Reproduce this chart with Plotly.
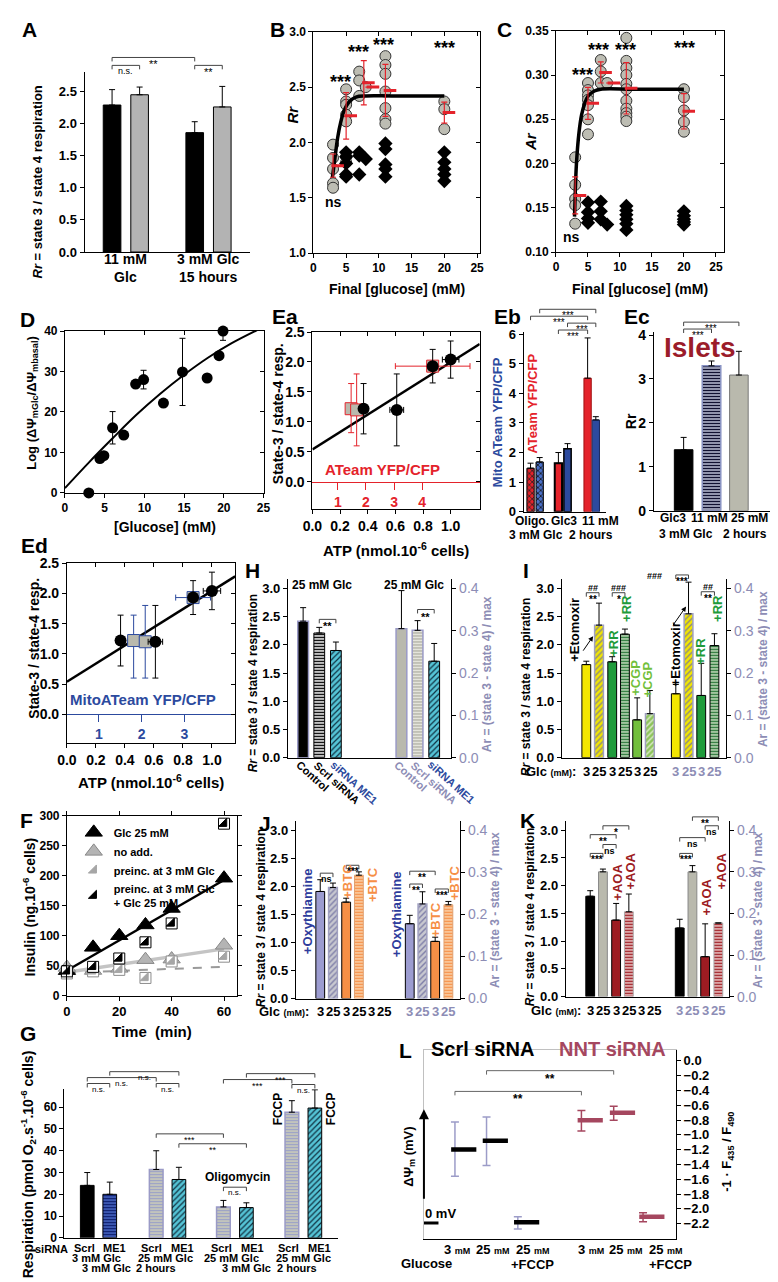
import plotly.graph_objects as go

W, H = 778, 1282
FONT = "Liberation Sans, Arial, Helvetica, sans-serif"

# ============================ DATA ============================
# A
A_black = [2.29, 1.86]
A_black_err = [0.24, 0.17]
A_gray = [2.45, 2.26]
A_gray_err = [0.12, 0.32]
A_labels = ["11 mM<br>Glc", "3 mM Glc<br>15 hours"]

# B
B_gray_x = [3, 3, 3, 3, 3, 5, 5, 5, 5, 5, 5, 5, 7, 7, 7, 8, 11, 11, 11, 11, 11, 11, 11, 20, 20, 20]
B_gray_y = [1.98, 1.86, 1.76, 1.63, 1.59, 2.48, 2.37, 2.34, 2.25, 2.19, 1.87, 1.82, 2.64, 2.56, 2.42,
            2.50, 2.78, 2.70, 2.62, 2.46, 2.31, 2.21, 2.17, 2.37, 2.30, 2.12]
B_dia_x = [5, 5, 5, 5, 5, 7, 7, 7, 8, 11, 11, 11, 11, 11, 20, 20, 20, 20, 20]
B_dia_y = [1.91, 1.87, 1.81, 1.71, 1.69, 1.91, 1.88, 1.71, 1.85, 1.99, 1.94, 1.80, 1.76, 1.69,
           1.91, 1.82, 1.76, 1.71, 1.65]
B_mean_x = [3, 5, 7.7, 8.4, 11, 20]
B_mean_y = [1.79, 2.24, 2.54, 2.50, 2.47, 2.27]
B_mean_err = [0.105, 0.21, 0.20, 0, 0.235, 0.095]
B_fit_x = [2.9, 3.3, 3.7, 4.2, 4.7, 5.5, 6.5, 8, 12, 20]
B_fit_y = [1.68, 1.86, 2.04, 2.19, 2.29, 2.37, 2.41, 2.42, 2.42, 2.42]

# C
C_gray_x = [3, 3, 3, 3, 3, 5, 5, 5, 5, 5, 5, 5, 7, 7, 7, 8, 11, 11, 11, 11, 11, 11, 11, 11, 11, 11, 11,
            20, 20, 20, 20, 20]
C_gray_y = [0.207, 0.176, 0.160, 0.153, 0.132, 0.291, 0.283, 0.277, 0.272, 0.266, 0.250, 0.233,
            0.317, 0.304, 0.291, 0.291, 0.342, 0.316, 0.308, 0.300, 0.290, 0.284, 0.271, 0.262,
            0.257, 0.253, 0.248, 0.284, 0.275, 0.260, 0.247, 0.236]
C_dia_x = [5, 5, 5, 5, 7, 7, 7, 8, 11, 11, 11, 11, 11, 11, 20, 20, 20, 20, 20]
C_dia_y = [0.156, 0.145, 0.138, 0.133, 0.157, 0.146, 0.137, 0.131, 0.152, 0.147, 0.142, 0.137,
           0.132, 0.125, 0.146, 0.141, 0.137, 0.134, 0.131]
C_mean_x = [3, 5, 7, 8.3, 11, 20]
C_mean_y = [0.164, 0.268, 0.303, 0.291, 0.285, 0.259]
C_mean_err = [0.021, 0.018, 0.012, 0, 0.029, 0.020]
C_fit_x = [2.9, 3.0, 3.2, 3.6, 4.0, 4.5, 5, 6, 7, 12, 20]
C_fit_y = [0.14, 0.165, 0.20, 0.235, 0.255, 0.268, 0.276, 0.282, 0.284, 0.284, 0.284]

# D
D_glc = [3, 4.4, 4.9, 6, 7.4, 8.9, 9.9, 12.4, 14.8, 17.9, 19.4, 19.9]
D_val = [0, 8.5, 9.2, 16.1, 14.3, 26.9, 28.0, 22.2, 29.9, 28.4, 33.9, 40.0]
D_err = [0, 0, 0, 4.0, 0, 0, 2.3, 0, 8.3, 0, 0, 2.3]
D_fit_x = [0, 3, 6, 9, 12, 15, 18, 21, 25]
D_fit_y = [1.2, 7.5, 13.5, 19.3, 24.5, 29.2, 33.4, 37.0, 41.0]

# Ea / Ed
ATP = [0.37, 0.61, 0.87, 1.0]
ATP_err = [0, 0.05, 0, 0.06]
RR34 = [1.22, 1.20, 1.93, 2.04]
RR34_err = [0.42, 0.60, 0.28, 0.31]
ATEAM_atp = [0.28, 0.32, 0.87]
ATEAM_atp_err = [0, 0, 0.27]
ATEAM_rr = [1.22, 1.20, 1.93]
ATEAM_rr_up = [0.42, 0.60, 0]
ATEAM_rr_dn = [0.40, 0.60, 0]
MITO_atp = [0.46, 0.54, 0.87]
MITO_atp_err = [0, 0, 0.12]
MITO_rr = [1.22, 1.20, 1.93]
MITO_rr_up = [0.42, 0.60, 0]
MITO_rr_dn = [0.62, 0.60, 0]
Ea_line_x = [0, 1.21]
Ea_line_y = [0.54, 2.30]
Ed_line_x = [0, 1.16]
Ed_line_y = [0.54, 2.28]

# Eb / Ec
Eb_val = [1.47, 1.68, 1.64, 2.13, 4.51, 3.10]
Eb_err = [0.17, 0.15, 0.36, 0.17, 1.36, 0.11]
Ec_val = [1.39, 3.30, 3.09]
Ec_err = [0.28, 0.11, 0.54]

# H
H_rr = [2.42, 2.21, 1.90]
H_rr_err = [0.24, 0.10, 0.15]
H_ar = [0.305, 0.301, 0.228]
H_ar_err = [0.09, 0.023, 0.042]
H_names = ["Control", "Scrl siRNA", "siRNA ME1"]

# I
I_rr = [1.65, 2.35, 1.70, 2.19, 0.67, 0.78]
I_rr_err = [0.06, 0.39, 0.09, 0.09, 0.39, 0.41]
I_ar = [0.151, 0.340, 0.147, 0.265]
I_ar_err = [0.022, 0.075, 0.076, 0.028]

# J
J_rr = [1.91, 1.98, 1.72, 2.20]
J_rr_err = [0.21, 0.08, 0.07, 0.06]
J_ar = [0.178, 0.225, 0.136, 0.223]
J_ar_err = [0.020, 0.029, 0.010, 0.008]

# K
K_rr = [1.81, 2.25, 1.38, 1.53]
K_rr_err = [0.10, 0.05, 0.30, 0.32]
K_ar = [0.165, 0.300, 0.096, 0.177]
K_ar_err = [0.021, 0.015, 0.079, 0.0]

GLC1 = ["3", "25", "3", "25", "3", "25"]
GLC2 = ["3", "25", "3", "25"]

# F
F_time = [0, 10, 20, 30, 40, 60]
F_glc25 = [41.7, 80.6, 100, 118, 145.5, 196]
F_noadd = [47, 42, 45.5, 60, 61, 84]
F_pre3 = [37, 40.5, 43, 29.5, 57, 65]
F_pre3_glc = [40.5, 48, 62, 89, 120.5, 287]
F_fit_t = [0, 60]
F_fit_glc25 = [42, 193]
F_fit_noadd = [39, 78]
F_fit_pre3 = [38, 48]

# G
G_val = [24.1, 20.0, 31.4, 26.8, 14.2, 13.9, 57.7, 59.6]
G_err = [5.9, 5.6, 8.6, 5.6, 3.0, 2.2, 5.3, 8.4]
G_sirna = ["Scrl", "ME1", "Scrl", "ME1", "Scrl", "ME1", "Scrl", "ME1"]

# L
L_scrl = [-1.196, -1.08, -2.18]
L_scrl_up = [0.369, 0.32, 0.073]
L_scrl_dn = [0.364, 0.333, 0.09]
L_nnt = [-0.804, -0.702, -2.107]
L_nnt_up = [0.134, 0.089, 0.057]
L_nnt_dn = [0.143, 0.102, 0.066]
L_zero = [-2.19]

# ============================ STYLE ============================
RED = "#e4232b"; BLUE = "#2c4a9e"; ARC = "#8d8db5"; GRAY = "#b9b9ad"
YEL = "#f3e600"; GREEN = "#1f9b3b"; LGREEN = "#72bf3c"; PURP = "#9c9cd0"
ORANGE = "#f68f46"; DRED = "#9d1c22"; CYAN = "#55c4d6"; MAROON = "#a5475f"
NAVY = "#233f95"; OXY = "#2e3c9c"

fig = go.Figure()
LAY = {}
ANN = []
CNT = {"x": 0, "y": 0}


def new_id(k):
    CNT[k] += 1
    return k if CNT[k] == 1 else k + str(CNT[k])


def key(aid):
    return ("xaxis" if aid[0] == "x" else "yaxis") + aid[1:]


def base(size=12, family=FONT, color="black", bold=True):
    return dict(showgrid=False, zeroline=False, fixedrange=True, showline=True,
                linecolor="black", linewidth=1, ticks="outside", ticklen=4,
                tickwidth=1, tickcolor="black",
                tickfont=dict(size=size, family=family, color=color,
                              weight="bold" if bold else "normal"))


def dummy(xa, ya):
    fig.add_trace(go.Scatter(x=[None], y=[None], xaxis=xa, yaxis=ya,
                             showlegend=False, hoverinfo="skip"))


def panel(x0, x1, y0, y1, xr, yr, xkw=None, ykw=None, fs=12, family=FONT):
    xa, ya = new_id("x"), new_id("y")
    X = base(fs, family)
    X.update(domain=[x0 / W, x1 / W], range=xr, anchor=ya)
    Y = base(fs, family)
    Y.update(domain=[1 - y1 / H, 1 - y0 / H], range=yr, anchor=xa)
    if xkw:
        X.update(xkw)
    if ykw:
        Y.update(ykw)
    LAY[key(xa)] = X
    LAY[key(ya)] = Y
    return xa, ya


def side_axis(xa, ya, yr, side="right", **kw):
    yb = new_id("y")
    Y = base()
    Y.update(overlaying=ya, side=side, anchor=xa, range=yr)
    Y.update(kw)
    LAY[key(yb)] = Y
    dummy(xa, yb)
    return yb


def top_axis(xa, ya, xr, **kw):
    xb = new_id("x")
    X = base()
    X.update(overlaying=xa, side="top", anchor=ya, range=xr)
    X.update(kw)
    LAY[key(xb)] = X
    dummy(xb, ya)
    return xb


def inner_ticks(xa, ya, xt, yt):
    top_axis(xa, ya, LAY[key(xa)]["range"], tickvals=xt, ticks="inside",
             showticklabels=False, showline=False)
    side_axis(xa, ya, LAY[key(ya)]["range"], tickvals=yt, ticks="inside",
              showticklabels=False, showline=False)


FULL = {}


def full(xa):
    if xa not in FULL:
        xb, yb = new_id("x"), new_id("y")
        LAY[key(xb)] = dict(domain=LAY[key(xa)]["domain"], range=LAY[key(xa)]["range"],
                            anchor=yb, visible=False, fixedrange=True)
        LAY[key(yb)] = dict(domain=[0, 1], range=[H, 0], anchor=xb, visible=False,
                            fixedrange=True)
        FULL[xa] = (xb, yb)
    return FULL[xa]


def bracket(xa, x0, x1, lv, below="", above="", leg=4, fs=10, color="#444",
            tcolor="black", bold=True):
    xb, yb = full(xa)
    fig.add_trace(go.Scatter(x=[x0, x0, x1, x1], y=[lv + leg, lv, lv, lv + leg],
                             mode="lines", line=dict(color=color, width=1),
                             xaxis=xb, yaxis=yb, showlegend=False, hoverinfo="skip"))
    mid = (x0 + x1) / 2
    wt = "bold" if bold else "normal"
    if below:
        ANN.append(dict(x=mid, y=lv, xref=xb, yref=yb, text=below, showarrow=False,
                        xanchor="center", yanchor="top", yshift=1,
                        font=dict(size=fs, color=tcolor, family=FONT, weight=wt)))
    if above:
        ANN.append(dict(x=mid, y=lv, xref=xb, yref=yb, text=above, showarrow=False,
                        xanchor="center", yanchor="bottom", yshift=-2,
                        font=dict(size=fs - 1, color=tcolor, family=FONT, weight=wt)))


def txt(text, px, py, size=12, color="black", bold=True, angle=0, xa="center",
        ya="middle"):
    ANN.append(dict(text=text, x=px / W, y=1 - py / H, xref="paper", yref="paper",
                    showarrow=False, textangle=angle, xanchor=xa, yanchor=ya,
                    font=dict(size=size, color=color, family=FONT,
                              weight="bold" if bold else "normal")))


def dtxt(text, xref, yref, x, y, size=12, color="black", bold=True):
    ANN.append(dict(text=text, x=x, y=y, xref=xref, yref=yref, showarrow=False,
                    xanchor="center", yanchor="middle",
                    font=dict(size=size, color=color, family=FONT,
                              weight="bold" if bold else "normal")))


def xtxt(text, xref, x, py, size=12, color="black", bold=True):
    ANN.append(dict(text=text, x=x, y=1 - py / H, xref=xref, yref="paper",
                    showarrow=False, xanchor="center", yanchor="middle",
                    font=dict(size=size, color=color, family=FONT,
                              weight="bold" if bold else "normal")))


def arrow(x0, y0, x1, y1, width=1, head=2):
    ANN.append(dict(x=x1 / W, y=1 - y1 / H, ax=x0 - x1, ay=y0 - y1, xref="paper",
                    yref="paper", axref="pixel", ayref="pixel", showarrow=True,
                    arrowhead=head, arrowwidth=width, arrowsize=1, arrowcolor="black",
                    text=""))


def bar(xa, ya, x, y, err, color, line="black", lw=1, width=0.9, pattern=None):
    m = dict(color=color, line=dict(color=line, width=lw))
    if pattern:
        m["pattern"] = pattern
    fig.add_trace(go.Bar(x=x, y=y, width=width, xaxis=xa, yaxis=ya, marker=m,
                         error_y=dict(type="data", array=err, arrayminus=[0] * len(err),
                                      symmetric=False, color="black", thickness=1, width=3),
                         showlegend=False, hoverinfo="skip"))


def pat(shape, fg, bg, size=4, sol=0.4):
    return dict(shape=shape, fgcolor=fg, bgcolor=bg, size=size, solidity=sol,
                fillmode="replace")


def tf(size=12, color="black", bold=True):
    return dict(size=size, family=FONT, color=color, weight="bold" if bold else "normal")


# ============================ PANEL A ============================
txt("A", 12, 14, 21)
xA, yA = panel(68, 237, 57, 239, [0, 6], [0, 2.8],
               xkw=dict(ticks="", showticklabels=False),
               ykw=dict(tickvals=[0, 0.5, 1, 1.5, 2, 2.5], tickformat=".1f", tickfont=tf(13)))
bar(xA, yA, [1, 4], A_black, A_black_err, "black", width=0.64)
bar(xA, yA, [2, 5], A_gray, A_gray_err, "#b3b3b3", width=0.64)
for p, lab in zip([1.5, 4.5], A_labels):
    xtxt(lab, xA, p, 255, 14)
txt("<i>Rr</i> = state 3 / state 4 respiration", 20, 168, 13, angle=-90)
bracket(xA, 1, 4, 42, "**", fs=11, bold=False)
bracket(xA, 1, 2, 50, "n.s.", fs=9, bold=False)
bracket(xA, 4, 5, 50, "**", fs=11, bold=False)

# ============================ PANEL B ============================
txt("B", 265, 14, 21)
xB, yB = panel(302, 472, 16, 240, [0, 25.4], [1, 3],
               xkw=dict(tickvals=[0, 5, 10, 15, 20, 25], mirror=True),
               ykw=dict(tickvals=[1, 1.5, 2, 2.5, 3], tickformat=".1f", mirror=True))
inner_ticks(xB, yB, [5, 10, 15, 20, 25], [1.5, 2, 2.5])
fig.add_trace(go.Scatter(x=B_gray_x, y=B_gray_y, mode="markers", xaxis=xB, yaxis=yB,
                         marker=dict(size=11, color="#bdbdb3", line=dict(color="#333", width=1)),
                         showlegend=False, cliponaxis=False))
fig.add_trace(go.Scatter(x=B_dia_x, y=B_dia_y, mode="markers", xaxis=xB, yaxis=yB,
                         marker=dict(size=11, symbol="diamond", color="black"),
                         showlegend=False))
fig.add_trace(go.Scatter(x=B_fit_x, y=B_fit_y, mode="lines", xaxis=xB, yaxis=yB,
                         line=dict(color="black", width=3.5, shape="spline"), showlegend=False))
fig.add_trace(go.Scatter(x=B_mean_x, y=B_mean_y, mode="markers", xaxis=xB, yaxis=yB,
                         marker=dict(size=1, color="rgba(0,0,0,0)"),
                         error_y=dict(type="data", array=B_mean_err, color=RED, thickness=1.2, width=3),
                         showlegend=False))
fig.add_trace(go.Scatter(x=[v + 0.7 for v in B_mean_x], y=B_mean_y, mode="markers",
                         xaxis=xB, yaxis=yB,
                         marker=dict(symbol="line-ew", size=9, line=dict(color=RED, width=3)),
                         showlegend=False))
for sx, sy in [(4.2, 2.55), (6.9, 2.82), (10.7, 2.88), (20, 2.85)]:
    dtxt("***", xB, yB, sx, sy, 18)
dtxt("ns", xB, yB, 3.1, 1.46, 14)
txt("<i>Rr</i>", 281, 100, 15, angle=-90)
txt("Final [glucose] (mM)", 387, 276, 14)

# ============================ PANEL C ============================
txt("C", 497, 14, 21)
xC, yC = panel(550, 722, 15, 239, [0, 26.3], [0.10, 0.35],
               xkw=dict(tickvals=[0, 5, 10, 15, 20, 25], mirror=True),
               ykw=dict(tickvals=[0.10, 0.15, 0.20, 0.25, 0.30, 0.35], tickformat=".2f", mirror=True))
inner_ticks(xC, yC, [5, 10, 15, 20, 25], [0.15, 0.2, 0.25, 0.3])
fig.add_trace(go.Scatter(x=C_gray_x, y=C_gray_y, mode="markers", xaxis=xC, yaxis=yC,
                         marker=dict(size=11, color="#bdbdb3", line=dict(color="#333", width=1)),
                         showlegend=False, cliponaxis=False))
fig.add_trace(go.Scatter(x=C_dia_x, y=C_dia_y, mode="markers", xaxis=xC, yaxis=yC,
                         marker=dict(size=11, symbol="diamond", color="black"),
                         showlegend=False))
fig.add_trace(go.Scatter(x=C_fit_x, y=C_fit_y, mode="lines", xaxis=xC, yaxis=yC,
                         line=dict(color="black", width=3.5, shape="spline"), showlegend=False))
fig.add_trace(go.Scatter(x=C_mean_x, y=C_mean_y, mode="markers", xaxis=xC, yaxis=yC,
                         marker=dict(size=1, color="rgba(0,0,0,0)"),
                         error_y=dict(type="data", array=C_mean_err, color=RED, thickness=1.2, width=3),
                         showlegend=False))
fig.add_trace(go.Scatter(x=[v + 0.75 for v in C_mean_x], y=C_mean_y, mode="markers",
                         xaxis=xC, yaxis=yC,
                         marker=dict(symbol="line-ew", size=9, line=dict(color=RED, width=3)),
                         showlegend=False))
for sx, sy in [(4.1, 0.300), (6.7, 0.328), (10.8, 0.328), (20.1, 0.331)]:
    dtxt("***", xC, yC, sx, sy, 18)
dtxt("ns", xC, yC, 2.5, 0.117, 14)
txt("<i>Ar</i>", 524, 127, 15, angle=-90)
txt("Final [glucose] (mM)", 636, 276, 14)

# ============================ PANEL D ============================
txt("D", 10, 307, 21)
xD, yD = panel(48, 251, 319, 483, [0, 25], [0, 40],
               xkw=dict(tickvals=[0, 5, 10, 15, 20, 25], mirror=True),
               ykw=dict(tickvals=[0, 10, 20, 30, 40], mirror=True))
inner_ticks(xD, yD, [5, 10, 15, 20], [10, 20, 30])
fig.add_trace(go.Scatter(x=D_fit_x, y=D_fit_y, mode="lines", xaxis=xD, yaxis=yD,
                         line=dict(color="black", width=2, shape="spline"), showlegend=False))
fig.add_trace(go.Scatter(x=D_glc, y=D_val, mode="markers", xaxis=xD, yaxis=yD,
                         marker=dict(size=11, color="black"),
                         error_y=dict(type="data", array=D_err, color="black", thickness=1, width=3),
                         showlegend=False, cliponaxis=False))
txt("Log (ΔΨ<sub>mGlc</sub>/ΔΨ<sub>mbasal</sub>)", 14, 392, 13, angle=-90)
txt("[Glucose] (mM)", 150, 517, 14)

# ============================ PANEL Ea ============================
txt("Ea", 273, 304, 21)
xEa, yEa = panel(301, 472, 320, 499, [0, 1.21], [-0.45, 2.5],
                 xkw=dict(tickvals=[0, 0.2, 0.4, 0.6, 0.8, 1.0], tickformat=".1f", mirror=True,
                          tickfont=tf(14)),
                 ykw=dict(tickvals=[0, 0.5, 1, 1.5, 2, 2.5], tickformat=".1f", mirror=True,
                          tickfont=tf(14)))
inner_ticks(xEa, yEa, [0.2, 0.4, 0.6, 0.8, 1.0], [0, 0.5, 1, 1.5, 2])
xr_ = new_id("x")
LAY[key(xr_)] = dict(overlaying=xEa, anchor="free", position=1 - 472 / H, side="bottom",
                     range=[0.094, 6.05], tickvals=[1, 2, 3, 4], ticks="outside", ticklen=7,
                     tickcolor=RED, linecolor=RED, showline=True, linewidth=1, showgrid=False,
                     zeroline=False, fixedrange=True, tickfont=tf(14, color=RED))
dummy(xr_, yEa)
fig.add_trace(go.Scatter(x=Ea_line_x, y=Ea_line_y, mode="lines", xaxis=xEa, yaxis=yEa,
                         line=dict(color="black", width=2.5), showlegend=False))
fig.add_trace(go.Scatter(x=ATEAM_atp, y=ATEAM_rr, mode="markers", xaxis=xEa, yaxis=yEa,
                         marker=dict(symbol="square", size=12, color=GRAY, line=dict(color=RED, width=1)),
                         error_y=dict(type="data", array=ATEAM_rr_up, arrayminus=ATEAM_rr_dn,
                                      symmetric=False, color=RED, thickness=1, width=3),
                         error_x=dict(type="data", array=ATEAM_atp_err, color=RED, thickness=1, width=3),
                         showlegend=False))
fig.add_trace(go.Scatter(x=ATP, y=RR34, mode="markers", xaxis=xEa, yaxis=yEa,
                         marker=dict(size=12, color="black"),
                         error_y=dict(type="data", array=RR34_err, color="black", thickness=1, width=3),
                         error_x=dict(type="data", array=ATP_err, color="black", thickness=1, width=3),
                         showlegend=False))
txt("ATeam YFP/CFP", 373, 459, 15, color=RED)
txt("State-3 / state-4 resp.", 266, 403, 14, angle=-90)
txt("ATP (nmol.10<sup>-6</sup> cells)", 386, 540, 15)

# ============================ PANEL Eb ============================
txt("Eb", 500, 304, 21)
xEb, yEb = panel(517, 601, 320, 502, [0, 9], [0, 6.07],
                 xkw=dict(ticks="", showticklabels=False),
                 ykw=dict(tickvals=[0, 1, 2, 3, 4, 5, 6], tickfont=tf(13)))
Eb_POS = [0.75, 1.75, 3.8, 4.8, 7.0, 7.9]
Eb_STY = [dict(color=RED, pattern=pat("x", "#222", RED, 4, 0.35)),
          dict(color=BLUE, pattern=pat("x", "#111", "#4a70c8", 4, 0.35)),
          dict(color=RED, line="black", lw=2),
          dict(color=BLUE, line="black", lw=1.5),
          dict(color=RED, line="#a01010"),
          dict(color=BLUE, line="#1a2a60")]
for i in range(6):
    bar(xEb, yEb, [Eb_POS[i]], [Eb_val[i]], [Eb_err[i]], width=0.8, **Eb_STY[i])
txt("Mito ATeam YFP/CFP", 491, 411, 13, color=BLUE, angle=-90)
txt("ATeam YFP/CFP", 526, 393, 13, color=RED, angle=-90)
txt("Oligo.", 525, 511, 12)
txt("Glc3", 558, 511, 12)
txt("11 mM", 596, 511, 12)
txt("3 mM Glc", 530, 526, 12)
txt("2 hours", 586, 526, 12)
bracket(xEb, Eb_POS[1], Eb_POS[5], 297, "***", fs=10, bold=False)
bracket(xEb, Eb_POS[0], Eb_POS[4], 304, "***", fs=10, bold=False)
bracket(xEb, Eb_POS[3], Eb_POS[5], 311, "***", fs=10, bold=False)
bracket(xEb, Eb_POS[2], Eb_POS[4], 318, "***", fs=10, bold=False)

# ============================ PANEL Ec ============================
txt("Ec", 633, 304, 21)
xEc, yEc = panel(650, 775, 320, 501, [0, 5], [0, 4.07],
                 xkw=dict(ticks="", showticklabels=False),
                 ykw=dict(tickvals=[0, 1, 2, 3, 4], tickfont=tf(14)))
Ec_POS = [1.22, 2.36, 3.48]
Ec_STY = [dict(color="black"),
          dict(color="#c0c8e0", line="#8a94c4", lw=1.5, pattern=pat("-", "#101030", "#d0d4e8", 3, 0.55)),
          dict(color=GRAY, line="#777")]
for i in range(3):
    bar(xEc, yEc, [Ec_POS[i]], [Ec_val[i]], [Ec_err[i]], width=0.76, **Ec_STY[i])
txt("Islets", 697, 336, 28, color="#9b1c2a")
txt("Rr", 627, 410, 14, angle=-90)
txt("Glc3", 670, 508, 12)
txt("11 mM", 707, 508, 12)
txt("25 mM", 748, 508, 12)
txt("3 mM Glc", 683, 525, 12)
txt("2 hours", 743, 525, 12)
bracket(xEc, Ec_POS[0], Ec_POS[2], 310, "***", fs=10, bold=False)
bracket(xEc, Ec_POS[0], Ec_POS[1], 317, "***", fs=10, bold=False)

# ============================ PANEL Ed ============================
txt("Ed", 17, 536, 21)
xEd, yEd = panel(50, 222, 554, 736, [0, 1.16], [-0.47, 2.5],
                 xkw=dict(tickvals=[0, 0.2, 0.4, 0.6, 0.8, 1.0], tickformat=".1f", mirror=True,
                          tickfont=tf(14)),
                 ykw=dict(tickvals=[0, 0.5, 1, 1.5, 2, 2.5], tickformat=".1f", mirror=True,
                          tickfont=tf(14)))
inner_ticks(xEd, yEd, [0.2, 0.4, 0.6, 0.8, 1.0], [0, 0.5, 1, 1.5, 2])
xb_ = new_id("x")
LAY[key(xb_)] = dict(overlaying=xEd, anchor="free", position=1 - 707 / H, side="bottom",
                     range=[0.25, 4.19], tickvals=[1, 2, 3], ticks="outside", ticklen=7,
                     tickcolor=BLUE, linecolor=BLUE, showline=True, linewidth=1, showgrid=False,
                     zeroline=False, fixedrange=True, tickfont=tf(14, color=BLUE))
dummy(xb_, yEd)
fig.add_trace(go.Scatter(x=Ed_line_x, y=Ed_line_y, mode="lines", xaxis=xEd, yaxis=yEd,
                         line=dict(color="black", width=2.5), showlegend=False))
fig.add_trace(go.Scatter(x=MITO_atp, y=MITO_rr, mode="markers", xaxis=xEd, yaxis=yEd,
                         marker=dict(symbol="square", size=12, color=GRAY, line=dict(color=BLUE, width=1)),
                         error_y=dict(type="data", array=MITO_rr_up, arrayminus=MITO_rr_dn,
                                      symmetric=False, color=BLUE, thickness=1, width=3),
                         error_x=dict(type="data", array=MITO_atp_err, color=BLUE, thickness=1, width=3),
                         showlegend=False))
fig.add_trace(go.Scatter(x=ATP, y=RR34, mode="markers", xaxis=xEd, yaxis=yEd,
                         marker=dict(size=12, color="black"),
                         error_y=dict(type="data", array=RR34_err, color="black", thickness=1, width=3),
                         error_x=dict(type="data", array=ATP_err, color="black", thickness=1, width=3),
                         showlegend=False))
txt("MitoATeam YFP/CFP", 128, 692, 15, color=BLUE)
txt("State-3 / state-4 resp.", 16, 640, 14, angle=-90)
txt("ATP (nmol.10<sup>-6</sup> cells)", 136, 775, 15)

# ============================ R/A panels H I J K ============================
POS1 = [2.5, 3.8, 5.15, 6.45, 7.7, 9.0]
POS2 = [11.65, 12.95, 14.25, 15.6]


def rr_panel(x0, x1, y0, y1, xmax):
    xa, ya = panel(x0, x1, y0, y1, [0, xmax], [0, 3.17],
                   xkw=dict(ticks="", showticklabels=False),
                   ykw=dict(tickvals=[0, 0.5, 1, 1.5, 2, 2.5, 3], tickformat=".1f",
                            tickfont=tf(13)))
    yb = side_axis(xa, ya, [0, 0.4227], tickvals=[0, 0.1, 0.2, 0.3, 0.4], tickformat=".1f",
                   tickfont=tf(14, color=ARC, bold=False))
    return xa, ya, yb


def glc_row(xa, py, right_px):
    txt("Glc <span style='font-size:9px'>(mM)</span>:", right_px, py, 13, xa="right")
    for p, lab in zip(POS1, GLC1):
        xtxt(lab, xa, p, py, 13)
    for p, lab in zip(POS2, GLC2):
        xtxt(lab, xa, p, py, 13, color=ARC)


# ---- H ----
txt("H", 240, 562, 21)
xH, yH, yH2 = rr_panel(276, 443, 570, 751, 16.7)
H_POS1 = [1.55, 3.2, 4.9]
H_POS2 = [11.6, 13.25, 14.95]
H_STY1 = [dict(color="black", line="#9a9ac6", lw=1.5),
          dict(color="white", pattern=pat("-", "black", "white", 3, 0.5)),
          dict(color=CYAN, pattern=pat("/", "#113344", CYAN, 4, 0.3))]
H_STY2 = [dict(color=GRAY, line="#9a9ac6", lw=1.5),
          dict(color=GRAY, line="#9a9ac6", lw=1.5, pattern=pat("-", "#e8e8e0", GRAY, 3, 0.45)),
          dict(color=CYAN, pattern=pat("/", "#113344", CYAN, 4, 0.3))]
for i in range(3):
    bar(xH, yH, [H_POS1[i]], [H_rr[i]], [H_rr_err[i]], width=1.1, **H_STY1[i])
    bar(xH, yH2, [H_POS2[i]], [H_ar[i]], [H_ar_err[i]], width=1.1, **H_STY2[i])
txt("25 mM Glc", 311, 576, 12)
txt("25 mM Glc", 405, 576, 12)
bracket(xH, H_POS1[1], H_POS1[2], 611, "**", fs=11)
bracket(xH, H_POS2[1], H_POS2[2], 601, "**", fs=11)
H_lab_px = [(301, 770), (326, 777), (343, 776)]
H_lab_px2 = [(401, 770), (425, 777), (443, 776)]
H_col1 = ["black", "black", BLUE]
H_col2 = [ARC, ARC, BLUE]
for i in range(3):
    txt(H_names[i], H_lab_px[i][0], H_lab_px[i][1], 11, color=H_col1[i], angle=42)
    txt(H_names[i], H_lab_px2[i][0], H_lab_px2[i][1], 11, color=H_col2[i], angle=42)
txt("<i>Rr</i> = state 3 / state 4 respiration", 240, 676, 12, angle=-90)
txt("Ar = (state 3 - state 4) / max", 479, 667, 12, color=ARC, angle=-90)

# ---- I ----
txt("I", 519, 562, 21)
xI, yI, yI2 = rr_panel(556, 724, 570, 751, 16.8)
I_STY = [dict(color=YEL),
         dict(color=YEL, line="#a0a0c0", lw=1.5, pattern=pat("/", "#8a8a80", YEL, 4, 0.35)),
         dict(color=GREEN),
         dict(color="#c8dcc0", pattern=pat("-", "#2a7a3a", "#c8dcc0", 3, 0.5)),
         dict(color=LGREEN),
         dict(color="#9ccc70", line="#a0a0c0", lw=1.5, pattern=pat("/", "#e0ecd0", "#8cc45a", 4, 0.35))]
for i in range(6):
    bar(xI, yI, [POS1[i]], [I_rr[i]], [I_rr_err[i]], **I_STY[i])
for i in range(4):
    bar(xI, yI2, [POS2[i]], [I_ar[i]], [I_ar_err[i]], **I_STY[i])
glc_row(xI, 765, 572)
txt("+Etomoxir", 569, 622, 13, angle=-90)
txt("+RR", 608, 635, 13, color=GREEN, angle=-90)
txt("+RR", 622, 600, 13, color=GREEN, angle=-90)
txt("+CGP", 631, 670, 13, color=LGREEN, angle=-90)
txt("+CGP", 644, 672, 13, color=LGREEN, angle=-90)
txt("+Etomoxir", 673, 646, 13, angle=-90)
txt("+RR", 698, 643, 13, color=GREEN, angle=-90)
txt("+RR", 715, 600, 13, color=GREEN, angle=-90)
arrow(577, 644, 588, 628)
arrow(669, 618, 683, 598)
bracket(xI, POS1[0], POS1[1], 584, "**", "##", fs=10)
bracket(xI, POS1[2], POS1[3], 584, "*", "###", fs=10)
bracket(xI, POS2[0], POS2[1], 566, "***", fs=10)
txt("###", 660, 567, 9, xa="right")
bracket(xI, POS2[2], POS2[3], 583, "**", "##", fs=10)
txt("<i>Rr</i> = state 3 / state 4 respiration", 519, 680, 12, angle=-90)
txt("Ar = (state 3 - state 4) / max", 761, 661, 12, color=ARC, angle=-90)

# ---- J ----
txt("J", 253, 818, 21)
xJ, yJ, yJ2 = rr_panel(284, 452, 815, 995, 16.8)
J_STY = [dict(color=PURP),
         dict(color="#c8c8d0", line="#a0a0c0", lw=1.5, pattern=pat("/", "#7e7ea8", "#c8c8d0", 4, 0.35)),
         dict(color=ORANGE),
         dict(color="#fbd6b0", line="#e0a070", pattern=pat("-", ORANGE, "#fbd6b0", 3, 0.5))]
for i in range(4):
    bar(xJ, yJ, [POS1[i]], [J_rr[i]], [J_rr_err[i]], **J_STY[i])
    bar(xJ, yJ2, [POS2[i]], [J_ar[i]], [J_ar_err[i]], **J_STY[i])
glc_row(xJ, 1008, 300)
txt("+Oxythiamine", 296, 907, 13, color=OXY, angle=-90)
txt("+BTC", 336, 876, 13, color=ORANGE, angle=-90)
txt("+BTC", 362, 880, 13, color=ORANGE, angle=-90)
txt("+Oxythiamine", 387, 910, 13, color=OXY, angle=-90)
txt("+BTC", 427, 915, 13, color=ORANGE, angle=-90)
txt("+BTC", 446, 878, 13, color=ORANGE, angle=-90)
bracket(xJ, POS1[0], POS1[1], 868, "ns", fs=9)
bracket(xJ, POS1[2], POS1[3], 860, "***", fs=10)
bracket(xJ, POS2[0], POS2[2], 866, "**", fs=10)
bracket(xJ, POS2[0], POS2[1], 879, "**", fs=10)
bracket(xJ, POS2[2], POS2[3], 884, "***", fs=10)
txt("<i>Rr</i> = state 3 / state 4 respiration", 248, 914, 12, angle=-90)
txt("Ar = (state 3 - state 4) / max", 487, 905, 12, color=ARC, angle=-90)

# ---- K ----
txt("K", 521, 815, 21)
xK, yK, yK2 = rr_panel(560, 727, 815, 993, 16.7)
K_STY = [dict(color="black"),
         dict(color=GRAY, line="#888"),
         dict(color=DRED),
         dict(color="#f0d0d0", line="#aaa", pattern=pat("-", DRED, "#f0d0d0", 3, 0.5))]
for i in range(4):
    bar(xK, yK, [POS1[i]], [K_rr[i]], [K_rr_err[i]], **K_STY[i])
    bar(xK, yK2, [POS2[i]], [K_ar[i]], [K_ar_err[i]], **K_STY[i])
glc_row(xK, 1007, 578)
txt("+AOA", 612, 877, 13, color=DRED, angle=-90)
txt("+AOA", 626, 866, 13, color=DRED, angle=-90)
txt("+AOA", 704, 892, 13, color=DRED, angle=-90)
txt("+AOA", 719, 866, 13, color=DRED, angle=-90)
bracket(xK, POS1[0], POS1[1], 848, "***", fs=10)
bracket(xK, POS1[1], POS1[2], 839, "ns", fs=9)
bracket(xK, POS1[0], POS1[2], 829, "**", fs=10)
bracket(xK, POS1[1], POS1[3], 820, "*", fs=10)
bracket(xK, POS2[0], POS2[1], 848, "***", fs=10)
bracket(xK, POS2[0], POS2[2], 832, "ns", fs=9)
bracket(xK, POS2[1], POS2[3], 811, "**", fs=10)
bracket(xK, POS2[2], POS2[3], 820, "ns", fs=9)
txt("<i>Rr</i> = state 3 / state 4 respiration", 523, 913, 12, angle=-90)
txt("Ar = (state 3 - state 4) / max", 756, 905, 12, color=ARC, angle=-90)

# ============================ PANEL F ============================
txt("F", 9, 815, 21)
xF, yF = panel(50, 224, 810, 992, [0, 65], [0, 300],
               xkw=dict(tickvals=[0, 20, 40, 60], mirror="ticks", tickfont=tf(13)),
               ykw=dict(tickvals=[0, 50, 100, 150, 200, 250, 300], mirror="ticks",
                        tickfont=tf(12)))
fig.add_trace(go.Scatter(x=F_fit_t, y=F_fit_noadd, mode="lines", xaxis=xF, yaxis=yF,
                         line=dict(color="#c4c4c4", width=3.5), showlegend=False))
fig.add_trace(go.Scatter(x=F_fit_t, y=F_fit_pre3, mode="lines", xaxis=xF, yaxis=yF,
                         line=dict(color="#9a9a9a", width=2, dash="dash"), showlegend=False))
fig.add_trace(go.Scatter(x=F_fit_t, y=F_fit_glc25, mode="lines", xaxis=xF, yaxis=yF,
                         line=dict(color="black", width=2.5), showlegend=False))


def fmark(y, symbol, size, color, lc, name=None):
    fig.add_trace(go.Scatter(x=F_time, y=y, mode="markers", xaxis=xF, yaxis=yF,
                             marker=dict(symbol=symbol, size=size, color=color,
                                         line=dict(color=lc, width=1)),
                             name=name or "", showlegend=bool(name), cliponaxis=False,
                             hoverinfo="skip"))


fmark(F_glc25, "triangle-up", 15, "black", "black", "Glc 25 mM")
fmark(F_noadd, "triangle-up", 15, "#b4b4b4", "#888", "no add.")
fmark(F_pre3, "square", 11, "white", "#8c8c8c")
fmark(F_pre3, "triangle-se", 9, "#a6a6a6", "#a6a6a6", "preinc. at 3 mM Glc")
fmark(F_pre3_glc, "square", 11, "white", "black")
fmark(F_pre3_glc, "triangle-se", 9, "black", "black", "preinc. at 3 mM Glc<br>+ Glc 25 mM")
txt("Insulin (ng.10<sup>-6</sup> cells)", 11, 902, 14, angle=-90)
txt("Time  (min)", 137, 1028, 15)

# ============================ PANEL G ============================
txt("G", 10, 1030, 21)
xG, yG = panel(47.5, 327, 1086.7, 1237.3, [0, 27.95], [0, 68.3],
               xkw=dict(ticks="", showticklabels=False),
               ykw=dict(tickvals=[0, 10, 20, 30, 40, 50, 60], tickfont=tf(12)))
G_POS = [2.33, 4.63, 9.38, 11.7, 16.25, 18.6, 23.25, 25.6]
G_STY_BASE = [dict(color="black"),
              dict(color=NAVY, pattern=pat("-", "#0c1c6c", "#4a6ac8", 3, 0.5)),
              dict(color=GRAY, line="#9a9ac6", lw=1.5, pattern=pat("-", "#9aa0c8", "#d0d0b8", 3, 0.5)),
              dict(color=CYAN, pattern=pat("/", "#103040", CYAN, 4, 0.3))]
G_STY = [G_STY_BASE[k] for k in [0, 1, 2, 3, 2, 3, 2, 3]]
G_LAB_PX = [68, 99, 136, 168, 208, 240, 277, 308]
for i in range(8):
    bar(xG, yG, [G_POS[i]], [G_val[i]], [G_err[i]], width=1.4, **G_STY[i])
    txt(G_sirna[i], G_LAB_PX[i], 1248, 11)
txt("siRNA", 34, 1249, 11)
for cx, lab in [(80, "3 mM Glc"), (151, "25 mM Glc"), (218, "25 mM Glc"), (292, "25 mM Glc")]:
    txt(lab, cx, 1258, 11)
for cx, lab in [(90, "3 mM Glc"), (141, "2 hours"), (234, "3 mM Glc"), (285, "2 hours")]:
    txt(lab, cx, 1268, 11)
txt("FCCP", 266, 1107, 12, angle=-90)
txt("FCCP", 320, 1107, 12, angle=-90)
txt("Oligomycin", 224, 1176, 12)
txt("Respiration (pmol O<sub>2</sub>.s<sup>-1</sup>.10<sup>-6</sup> cells)", 11, 1163, 14,
    angle=-90)
bracket(xG, G_POS[0], G_POS[1], 1081, "n.s.", fs=8, bold=False)
bracket(xG, G_POS[2], G_POS[3], 1081, "n.s.", fs=8, bold=False)
bracket(xG, G_POS[0], G_POS[2], 1075, "n.s.", fs=8, bold=False)
bracket(xG, G_POS[1], G_POS[3], 1069, "n.s.", fs=8, bold=False)
bracket(xG, G_POS[5], G_POS[7], 1071, "***", fs=9, bold=False)
bracket(xG, G_POS[4], G_POS[6], 1077, "***", fs=9, bold=False)
bracket(xG, G_POS[6], G_POS[7], 1082, "n.s.", fs=8, bold=False)
bracket(xG, G_POS[2], G_POS[4], 1132, "***", fs=9, bold=False)
bracket(xG, G_POS[3], G_POS[5], 1142, "**", fs=9, bold=False)
bracket(xG, G_POS[4], G_POS[5], 1186, "n.s.", fs=8, bold=False)

# ============================ PANEL L ============================
txt("L", 396, 1048, 21)
L_RANGE = [0, 257.7]
L_YR = [-2.40, 0.147]
xL, yL = panel(415, 672.7, 1047, 1238, L_RANGE, L_YR,
               xkw=dict(ticks="", showticklabels=False),
               ykw=dict(side="right", tickvals=[0, -0.2, -0.4, -0.6, -0.8, -1.0, -1.2, -1.4,
                                                -1.6, -1.8, -2.0, -2.2],
                        tickformat=".1f", tickfont=tf(13)))
top_axis(xL, yL, L_RANGE, ticks="", showticklabels=False, linecolor="#c0c0c0")
side_axis(xL, yL, L_YR, side="left", ticks="", showticklabels=False, linecolor="#c0c0c0")
L_POS_S = [31.7, 64, 96]
L_POS_N = [161, 194, 224]
L_POS_Z = [7]
fig.add_trace(go.Scatter(x=L_POS_S, y=L_scrl, mode="markers", xaxis=xL, yaxis=yL,
                         marker=dict(size=1, color="rgba(0,0,0,0)"),
                         error_y=dict(type="data", array=L_scrl_up, arrayminus=L_scrl_dn,
                                      symmetric=False, color="#9c9cc8", thickness=1.5, width=4),
                         showlegend=False))
fig.add_trace(go.Scatter(x=L_POS_N, y=L_nnt, mode="markers", xaxis=xL, yaxis=yL,
                         marker=dict(size=1, color="rgba(0,0,0,0)"),
                         error_y=dict(type="data", array=L_nnt_up, arrayminus=L_nnt_dn,
                                      symmetric=False, color=MAROON, thickness=1.5, width=4),
                         showlegend=False))
fig.add_trace(go.Scatter(x=[p + 9 for p in L_POS_S], y=L_scrl, mode="markers", xaxis=xL, yaxis=yL,
                         marker=dict(symbol="line-ew", size=18, line=dict(color="black", width=4.5)),
                         showlegend=False))
fig.add_trace(go.Scatter(x=[p + 9 for p in L_POS_N], y=L_nnt, mode="markers", xaxis=xL, yaxis=yL,
                         marker=dict(symbol="line-ew", size=18, line=dict(color=MAROON, width=4.5)),
                         showlegend=False))
fig.add_trace(go.Scatter(x=L_POS_Z, y=L_zero, mode="markers", xaxis=xL, yaxis=yL,
                         marker=dict(symbol="line-ew", size=11, line=dict(color="black", width=3)),
                         showlegend=False, cliponaxis=False))
bracket(xL, L_POS_S[1], L_POS_N[1], 1068, "**", fs=12, color="#666")
bracket(xL, L_POS_S[0], L_POS_N[0], 1089, "**", fs=12, color="#666")
txt("Scrl siRNA", 475, 1046, 20)
txt("NNT siRNA", 608, 1046, 20, color=MAROON)
arrow(415, 1198, 415, 1107, width=2)
txt("ΔΨ<sub>m</sub> (mV)", 400, 1155, 13, angle=-90)
txt("0 mV", 432, 1213, 13)
txt("-1 · F<sub>435</sub> / F<sub>490</sub>", 726, 1150, 13, angle=-90)
MM = " <span style='font-size:9px'>mM</span>"
for cx, lab in [(449, "3" + MM), (486, "25" + MM), (526, "25" + MM),
                (586, "3" + MM), (622, "25" + MM), (662, "25" + MM)]:
    txt(lab, cx, 1249, 13)
txt("+FCCP", 526, 1264, 13)
txt("+FCCP", 667, 1264, 13)
txt("Glucose", 418, 1263, 13)

# ============================ LAYOUT ============================
fig.update_layout(
    width=W, height=H, margin=dict(l=0, r=0, t=0, b=0),
    paper_bgcolor="white", plot_bgcolor="rgba(0,0,0,0)",
    barmode="overlay", font=dict(family=FONT, size=12, color="black"),
    showlegend=True,
    legend=dict(x=57 / W, y=1 - 812 / H, xanchor="left", yanchor="top",
                bgcolor="rgba(0,0,0,0)", font=dict(family=FONT, size=11, weight="bold"),
                tracegroupgap=0, itemclick=False, itemdoubleclick=False),
    annotations=ANN,
    **LAY,
)
fig.write_html("out.html")
